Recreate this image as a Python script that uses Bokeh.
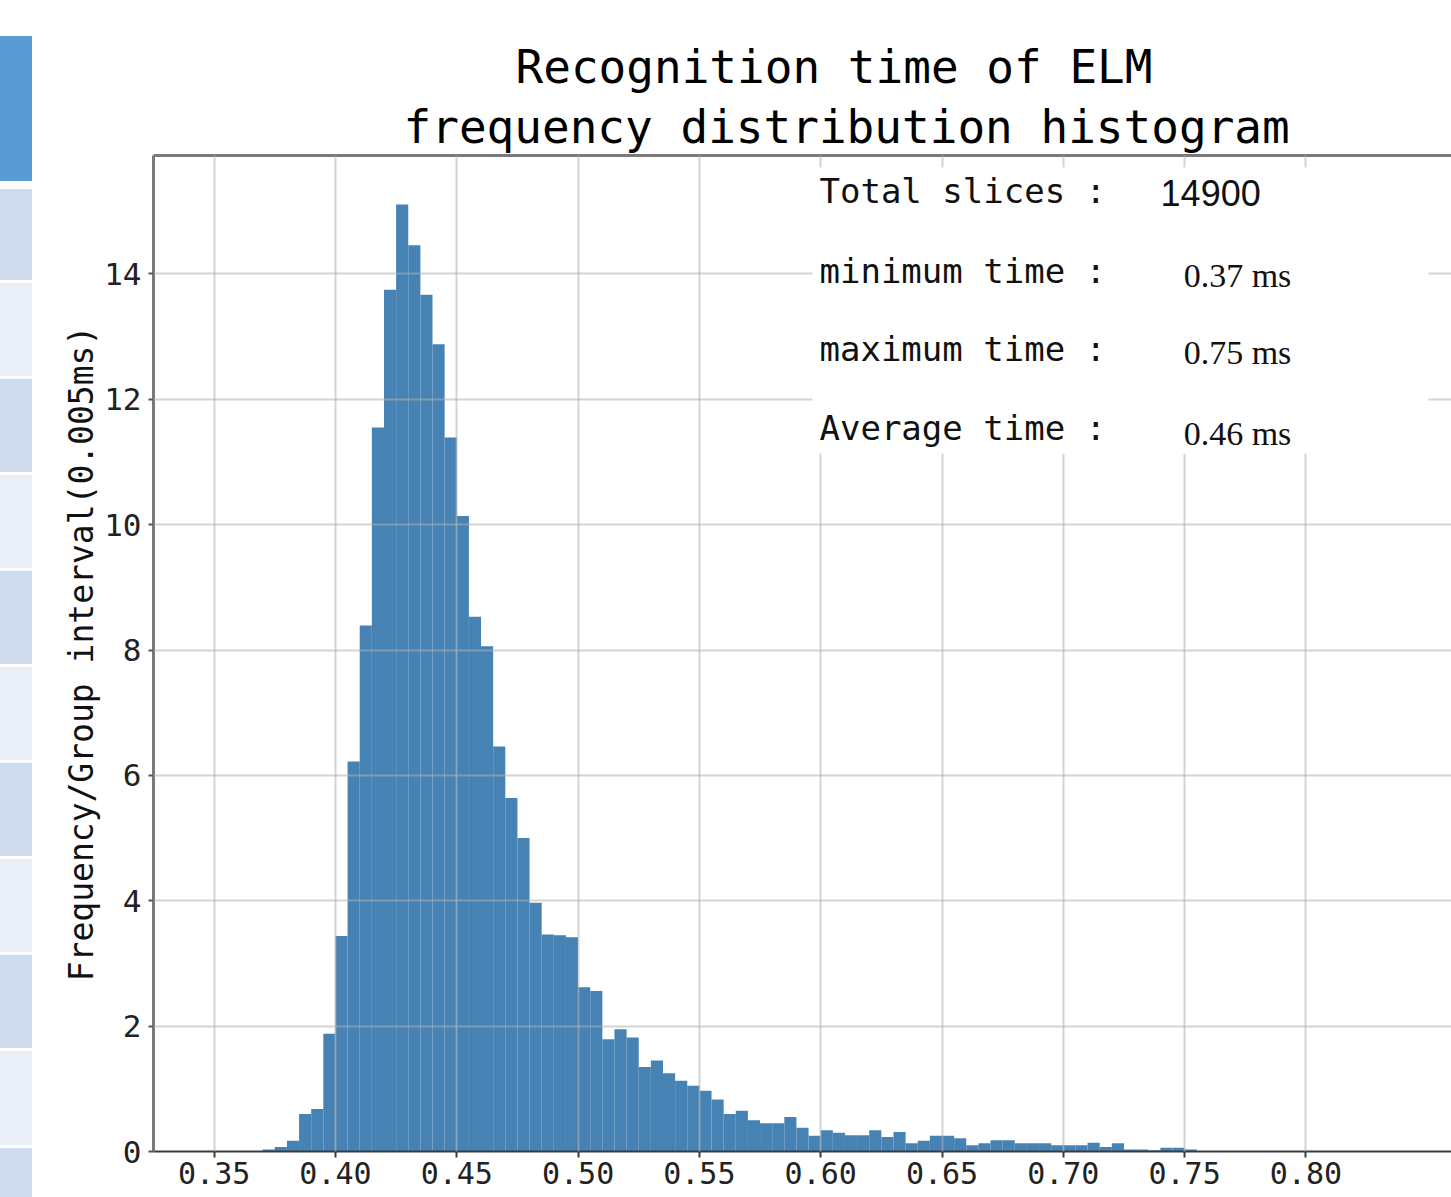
from bokeh.plotting import figure
from bokeh.models import (Range1d, FixedTicker, PrintfTickFormatter, LinearAxis,
                          Title, Label, BoxAnnotation, Div)
from bokeh.layouts import row
from bokeh.embed import file_html
from bokeh.resources import INLINE

# ---- data -------------------------------------------------------------
bin_start = 0.37
bin_width = 0.005
density = [
    0.03, 0.07, 0.17, 0.60, 0.68, 1.88,                       # 0.370 - 0.395
    3.44, 6.22, 8.39, 11.55, 13.75, 15.11, 14.46, 13.67, 12.88, 11.39,  # 0.400 - 0.445
    10.14, 8.53, 8.06, 6.46, 5.64, 5.00, 3.97, 3.46, 3.45, 3.42,       # 0.450 - 0.495
    2.62, 2.56, 1.79, 1.95, 1.82, 1.35, 1.45, 1.25, 1.13, 1.05,        # 0.500 - 0.545
    0.97, 0.83, 0.60, 0.65, 0.50, 0.45, 0.45, 0.55, 0.38, 0.25,        # 0.550 - 0.595
    0.34, 0.30, 0.26, 0.26, 0.34, 0.23, 0.31, 0.13, 0.17, 0.25,        # 0.600 - 0.645
    0.25, 0.21, 0.10, 0.13, 0.18, 0.18, 0.13, 0.13, 0.13, 0.10,        # 0.650 - 0.695
    0.10, 0.10, 0.14, 0.07, 0.13, 0.03, 0.03, 0.02, 0.06, 0.06, 0.03,  # 0.700 - 0.750
]
x_ticks = [0.35, 0.40, 0.45, 0.50, 0.55, 0.60, 0.65, 0.70, 0.75, 0.80]
y_ticks = [0, 2, 4, 6, 8, 10, 12, 14]

title_line1 = "Recognition time of ELM"
title_line2 = "frequency distribution histogram"
y_label = "Frequency/Group interval(0.005ms)"
stat_names = ["Total slices :", "minimum time :", "maximum time :", "Average time :"]
stat_values = ["14900", "0.37 ms", "0.75 ms", "0.46 ms"]

# decorative side strip (table cells at the left edge of the screenshot)
strip_top = [36, 189, 283, 379, 475, 571, 667, 763, 859, 955, 1051, 1148]
strip_bottom = [181, 280, 376, 472, 568, 664, 760, 856, 952, 1048, 1145, 1197]
strip_colors = ["#5b9bd5"] + ["#cfdcee", "#e9eef7"] * 5 + ["#cfdcee"]

MONO = "DejaVu Sans Mono"
STRIP_W = 32

# ---- side strip (plain HTML blocks) -----------------------------------
cells = "".join(
    f'<div style="position:absolute;left:0;top:{t}px;width:{STRIP_W}px;'
    f'height:{b - t}px;background:{c}"></div>'
    for t, b, c in zip(strip_top, strip_bottom, strip_colors))
strip = Div(text=f'<div style="position:relative;width:{STRIP_W}px;height:1197px;'
                 f'overflow:hidden">{cells}</div>',
            width=STRIP_W, height=1197, margin=0)

# ---- main histogram -----------------------------------------------------
lefts = [bin_start + i * bin_width for i in range(len(density))]
rights = [l + bin_width for l in lefts]

p = figure(width=1451 - STRIP_W, height=1197,
           x_range=Range1d(0.325, 0.86), y_range=Range1d(0, 15.89),
           toolbar_location=None, output_backend="svg",
           min_border_left=153 - STRIP_W, min_border_right=0,
           min_border_top=155, min_border_bottom=46, margin=0)
p.outline_line_color = None
p.background_fill_color = "white"
p.border_fill_color = "white"

p.quad(left=lefts, right=rights, top=density, bottom=0,
       fill_color="#4682b4", line_color=None)

# axes
p.xaxis.ticker = FixedTicker(ticks=x_ticks)
p.xaxis.formatter = PrintfTickFormatter(format="%.2f")
p.yaxis.ticker = FixedTicker(ticks=y_ticks)
p.xaxis.minor_tick_line_color = None
p.yaxis.minor_tick_line_color = None

p.xaxis.axis_line_color = "#3a3a3a"
p.xaxis.axis_line_width = 2
p.xaxis.major_tick_line_color = "#3a3a3a"
p.xaxis.major_tick_line_width = 2
p.xaxis.major_tick_out = 6
p.xaxis.major_tick_in = 0
p.xaxis.major_label_standoff = 4
p.xaxis.major_label_text_font = MONO
p.xaxis.major_label_text_font_size = "30px"
p.xaxis.major_label_text_color = "#222222"

p.yaxis.axis_line_color = "#7a7a7a"
p.yaxis.axis_line_width = 3
p.yaxis.major_tick_line_color = "#555555"
p.yaxis.major_tick_line_width = 2
p.yaxis.major_tick_out = 5
p.yaxis.major_tick_in = 0
p.yaxis.major_label_standoff = 7
p.yaxis.major_label_text_font = MONO
p.yaxis.major_label_text_font_size = "31px"
p.yaxis.major_label_text_color = "#222222"
p.yaxis.axis_label = y_label
p.yaxis.axis_label_text_font = MONO
p.yaxis.axis_label_text_font_size = "33px"
p.yaxis.axis_label_text_font_style = "normal"
p.yaxis.axis_label_text_color = "#111111"
p.yaxis.axis_label_standoff = 0

# top border as a bare axis
top_axis = LinearAxis(ticker=FixedTicker(ticks=[]), axis_line_color="#7a7a7a",
                      axis_line_width=3, major_tick_out=0, major_tick_in=0,
                      minor_tick_out=0, minor_tick_in=0, major_label_standoff=0,
                      major_label_text_font_size="0px")
p.add_layout(top_axis, "above")

# titles (first added sits closest to the plot); offsets from the frame's left edge
p.add_layout(Title(text=title_line2, align="left", offset=250,
                   text_font=MONO, text_font_size="46px",
                   text_font_style="normal", text_color="black", standoff=4), "above")
p.add_layout(Title(text=title_line1, align="left", offset=362,
                   text_font=MONO, text_font_size="46px",
                   text_font_style="normal", text_color="black", standoff=4), "above")

# grid above bars
for g in (p.xgrid, p.ygrid):
    g.level = "guide"
    g.grid_line_color = "#b0b0b0"
    g.grid_line_alpha = 0.55
    g.grid_line_width = 2
p.xgrid.ticker = FixedTicker(ticks=x_ticks)
p.ygrid.ticker = FixedTicker(ticks=y_ticks[1:])

# white box behind statistics text
p.add_layout(BoxAnnotation(left=0.5966, right=0.8505, top=15.70, bottom=11.13,
                           fill_color="white", fill_alpha=1.0, line_color=None,
                           line_alpha=0))

name_y = [15.32, 14.05, 12.80, 11.54]
value_y = [15.29, 13.98, 12.75, 11.45]
for i, name in enumerate(stat_names):
    p.add_layout(Label(x=0.5995, y=name_y[i], text=name, text_font=MONO,
                       text_font_size="34px", text_color="#111111",
                       text_baseline="alphabetic", text_align="left"))
p.add_layout(Label(x=0.7401, y=value_y[0], text=stat_values[0],
                   text_font="Liberation Sans", text_font_size="36px",
                   text_color="#111111", text_baseline="alphabetic"))
for i in range(1, 4):
    p.add_layout(Label(x=0.7496, y=value_y[i], text=stat_values[i],
                       text_font="Liberation Serif", text_font_size="34px",
                       text_color="#111111", text_baseline="alphabetic"))

layout = row(strip, p, spacing=0)
open("out.html", "w").write(file_html(layout, INLINE))
